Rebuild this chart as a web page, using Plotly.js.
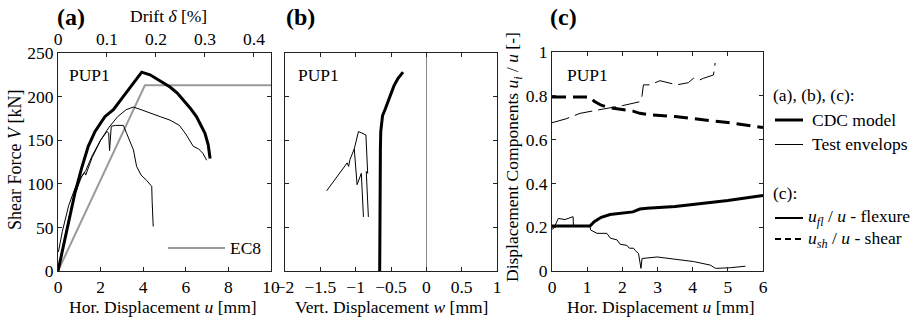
<!DOCTYPE html>
<html>
<head>
<meta charset="utf-8">
<script src="https://cdn.plot.ly/plotly-3.0.1.min.js"></script>
<style>html,body{margin:0;padding:0;background:#fff;}#plot{width:920px;height:322px;}</style>
</head>
<body>
<div id="plot"></div>
<script>
// ---------- Panel (a): shear force vs horizontal displacement ----------
const uCDC_a = [0, 0.25, 0.48, 0.8, 1.11, 1.42, 1.74, 2.0, 2.2, 2.4, 2.6, 3.0, 3.5, 3.93, 4.32, 4.8, 5.26, 5.6, 5.88, 6.2, 6.5, 6.7, 6.9, 7.05, 7.14];
const vCDC_a = [0, 28, 55, 90, 118, 143, 160, 170, 177, 181, 185, 198, 214, 228, 225, 218, 211, 204, 196, 187, 177, 168, 158, 145, 129];

const uTest1_a = [0, 0.25, 0.5, 0.8, 1.1, 1.25, 1.3, 1.6, 2.0, 2.4, 2.8, 3.2, 3.54, 3.9, 4.32, 4.8, 5.26, 5.7, 6.0, 6.35, 6.6, 6.8, 6.98];
const vTest1_a = [0, 30, 60, 88, 108, 113, 110, 130, 150, 165, 177, 185, 188, 185, 181, 177, 173, 167, 157, 143, 140, 135, 127];

const uTest2_a = [0.02, 0.2, 0.5, 0.8, 1.2, 1.3, 1.6, 2.0, 2.3, 2.38, 2.42, 2.46, 2.5, 2.7, 3.07, 3.22, 3.4, 3.54, 3.69, 3.9, 4.16, 4.4, 4.42, 4.47];
const vTest2_a = [22, 45, 75, 95, 112, 115, 132, 150, 160, 158, 138, 150, 166, 167, 167, 158, 148, 139, 120, 110, 104, 97, 80, 51];

const uEC8 = [0, 4.08, 10];
const vEC8 = [0, 213, 213];

const driftRange = [0, 0.4348];
const driftTicks = [0, 0.1, 0.2, 0.3, 0.4];

// ---------- Panel (b): shear force vs vertical displacement ----------
const wCDC_b = [-0.66, -0.66, -0.655, -0.65, -0.645, -0.635, -0.62, -0.58, -0.52, -0.46, -0.40, -0.33];
const vCDC_b = [0, 60, 110, 140, 160, 172, 178, 186, 200, 212, 221, 228];

const wTest1_b = [-1.41, -1.25, -1.12, -1.10, -1.08, -1.02, -0.96, -0.855, -0.83, -0.85, -0.82];
const vTest1_b = [92, 110, 124, 120, 128, 140, 160, 156, 112, 114, 62];

const wTest2_b = [-1.02, -0.98, -0.92, -0.89];
const vTest2_b = [140, 99, 112, 62];

// ---------- Panel (c): displacement components ----------
const uCDC_c = [0, 1.08, 1.2, 1.4, 1.65, 2.1, 2.3, 2.5, 2.7, 3.5, 4.5, 5.0, 6.0];
const flexCDC_c = [0.205, 0.205, 0.225, 0.245, 0.258, 0.265, 0.27, 0.283, 0.287, 0.295, 0.312, 0.322, 0.345];
const shearCDC_c = [0.795, 0.795, 0.775, 0.757, 0.745, 0.735, 0.73, 0.72, 0.715, 0.705, 0.688, 0.678, 0.655];

const uFlexTest_c = [0, 0.05, 0.18, 0.37, 0.6, 0.61, 1.08, 1.1, 1.28, 1.56, 1.66, 1.85, 1.94, 2.13, 2.2, 2.32, 2.37, 2.46, 2.53, 2.56, 2.99, 3.46, 4.03, 4.5, 4.65, 5.08, 5.5];
const flexTest_c = [0.19, 0.195, 0.24, 0.235, 0.248, 0.205, 0.205, 0.187, 0.172, 0.172, 0.15, 0.142, 0.122, 0.117, 0.104, 0.104, 0.093, 0.08, 0.012, 0.057, 0.064, 0.053, 0.043, 0.027, 0.012, 0.015, 0.022];

const uShearTest_c = [0, 0.4, 0.8, 1.1, 1.47, 2.0, 2.5, 2.56, 2.6, 2.79, 3.07, 3.55, 3.88, 4.02, 4.16, 4.31, 4.59, 4.64];
const shearTest_c = [0.677, 0.695, 0.72, 0.73, 0.74, 0.755, 0.773, 0.8, 0.85, 0.85, 0.869, 0.85, 0.86, 0.88, 0.87, 0.88, 0.895, 0.95];

// ---------- drawing ----------
const W = 920, H = 322;
const FONT = '"Liberation Serif", "Times New Roman", "DejaVu Serif", serif';
const FS = 17.5;
const px = x => x / W;
const py = y => 1 - y / H;

const thick = {color: '#000', width: 3};
const thin = {color: '#000', width: 1};

const traces = [
  {x: uEC8, y: vEC8, xaxis: 'x', yaxis: 'y', mode: 'lines', line: {color: '#9a9a9a', width: 2}},
  {x: uTest1_a, y: vTest1_a, xaxis: 'x', yaxis: 'y', mode: 'lines', line: thin},
  {x: uTest2_a, y: vTest2_a, xaxis: 'x', yaxis: 'y', mode: 'lines', line: thin},
  {x: uCDC_a, y: vCDC_a, xaxis: 'x', yaxis: 'y', mode: 'lines', line: thick},
  {x: driftRange, y: [null, null], xaxis: 'x4', yaxis: 'y', mode: 'lines', line: thin},

  {x: wTest1_b, y: vTest1_b, xaxis: 'x2', yaxis: 'y2', mode: 'lines', line: thin},
  {x: wTest2_b, y: vTest2_b, xaxis: 'x2', yaxis: 'y2', mode: 'lines', line: thin},
  {x: wCDC_b, y: vCDC_b, xaxis: 'x2', yaxis: 'y2', mode: 'lines', line: thick},

  {x: uFlexTest_c, y: flexTest_c, xaxis: 'x3', yaxis: 'y3', mode: 'lines', line: thin},
  {x: uShearTest_c, y: shearTest_c, xaxis: 'x3', yaxis: 'y3', mode: 'lines', line: {color: '#000', width: 1, dash: '18px,6px'}},
  {x: uCDC_c, y: flexCDC_c, xaxis: 'x3', yaxis: 'y3', mode: 'lines', line: thick},
  {x: uCDC_c, y: shearCDC_c, xaxis: 'x3', yaxis: 'y3', mode: 'lines', line: {color: '#000', width: 3, dash: '14px,7px'}}
];

const tickFont = {family: FONT, size: FS, color: '#000'};
function ax(extra) {
  return Object.assign({
    showgrid: false, zeroline: false, showline: true, linecolor: '#222', linewidth: 1,
    ticks: 'inside', ticklen: 4, tickwidth: 1, tickcolor: '#222', mirror: 'ticks',
    tickfont: tickFont, fixedrange: true
  }, extra);
}

const yDomAB = [py(271), py(53)];
const yDomC = [py(271), py(52)];

const layout = {
  width: W, height: H,
  margin: {l: 0, r: 0, t: 0, b: 0},
  paper_bgcolor: '#fff', plot_bgcolor: '#fff',
  showlegend: false, hovermode: false,
  font: {family: FONT, size: FS, color: '#000'},
  xaxis: ax({domain: [px(58), px(271)], range: [0, 10], tickvals: [0, 2, 4, 6, 8, 10], anchor: 'y', mirror: true}),
  yaxis: ax({domain: yDomAB, range: [0, 250], tickvals: [0, 50, 100, 150, 200, 250], anchor: 'x'}),
  xaxis4: ax({overlaying: 'x', side: 'top', domain: [px(58), px(271)], range: driftRange, tickvals: driftTicks, anchor: 'y', mirror: false}),
  xaxis2: ax({domain: [px(285), px(497)], range: [-2, 1], tickvals: [-2, -1.5, -1, -0.5, 0, 0.5, 1], anchor: 'y2',
    zeroline: true, zerolinecolor: '#888', zerolinewidth: 1.5}),
  yaxis2: ax({domain: yDomAB, range: [0, 250], tickvals: [0, 50, 100, 150, 200, 250], showticklabels: false, anchor: 'x2'}),
  xaxis3: ax({domain: [px(552), px(763)], range: [0, 6], tickvals: [0, 1, 2, 3, 4, 5, 6], anchor: 'y3'}),
  yaxis3: ax({domain: yDomC, range: [0, 1], tickvals: [0, 0.2, 0.4, 0.6, 0.8, 1], ticktext: ['0', '0.2', '0.4', '0.6', '0.8', '1'], anchor: 'x3'}),
  annotations: [],
  shapes: []
};

function ann(text, x, y, opts) {
  layout.annotations.push(Object.assign({
    text: text, xref: 'paper', yref: 'paper', x: px(x), y: py(y),
    xanchor: 'center', yanchor: 'middle', showarrow: false,
    font: {family: FONT, size: FS, color: '#000'}
  }, opts || {}));
}
function seg(x0, x1, y, line) {
  layout.shapes.push({type: 'line', xref: 'paper', yref: 'paper', x0: px(x0), x1: px(x1), y0: py(y), y1: py(y), line: line});
}

// panel labels
ann('<b>(a)</b>', 71, 17, {font: {family: FONT, size: 24, color: '#000'}});
ann('<b>(b)</b>', 300, 17, {font: {family: FONT, size: 24, color: '#000'}});
ann('<b>(c)</b>', 563, 17, {font: {family: FONT, size: 24, color: '#000'}});

// axis titles
ann('Drift <i>δ</i> [%]', 168, 16);
ann('Shear Force <i>V</i> [kN]', 15, 160, {textangle: -90, font: {family: FONT, size: 18, color: '#000'}});
ann('Hor. Displacement <i>u</i> [mm]', 163, 307);
ann('Vert. Displacement <i>w</i> [mm]', 391, 307);
ann('Hor. Displacement <i>u</i> [mm]', 661, 307);
ann('Displacement Components <i>u<sub>i</sub></i> / <i>u</i> [-]', 513, 157, {textangle: -90});

// specimen labels
ann('PUP1', 89, 75);
ann('PUP1', 318, 75);
ann('PUP1', 587, 75);

// EC8 key inside panel (a)
seg(168, 225, 248, {color: '#9a9a9a', width: 2});
ann('EC8', 228, 248, {xanchor: 'left'});

// right-hand key
ann('(a), (b), (c):', 771, 95, {xanchor: 'left'});
seg(775, 803, 120, {color: '#000', width: 3});
ann('CDC model', 810, 120, {xanchor: 'left'});
seg(775, 803, 144.5, {color: '#000', width: 1});
ann('Test envelops', 810, 144, {xanchor: 'left'});
ann('(c):', 771, 193, {xanchor: 'left'});
seg(775, 803, 218, {color: '#000', width: 2});
ann('<i>u<sub>fl</sub></i> / <i>u</i> - flexure', 806, 218, {xanchor: 'left'});
seg(775, 803, 239, {color: '#000', width: 2, dash: '6px,4px'});
ann('<i>u<sub>sh</sub></i> / <i>u</i> - shear', 806, 239, {xanchor: 'left'});

Plotly.newPlot('plot', traces, layout, {staticPlot: true, displayModeBar: false});
</script>
</body>
</html>
